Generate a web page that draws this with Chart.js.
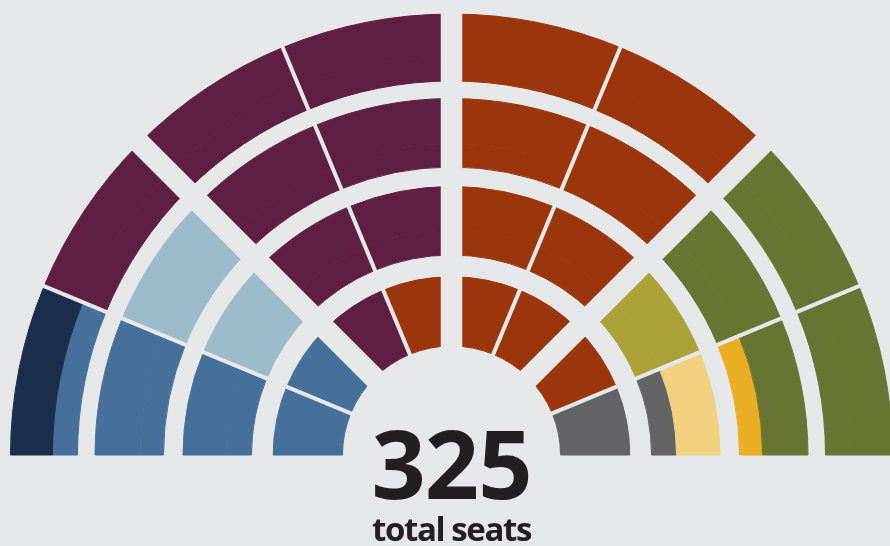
<!DOCTYPE html>
<html>
<head>
<meta charset="utf-8">
<script src="https://cdn.jsdelivr.net/npm/chart.js@4.4.1/dist/chart.umd.min.js"></script>
<style>
  html, body { margin: 0; padding: 0; background: #e6e7e9; }
  #wrap { position: relative; width: 890px; height: 546px; overflow: hidden; }
  .total { position: absolute; left: 0; width: 903px; text-align: center;
           font-family: 'Open Sans', sans-serif; font-weight: 700; color: #231f20; line-height: 1; }
  #num { top: 415px; font-size: 95px; letter-spacing: -1px; }
  #lbl { top: 512px; font-size: 33px; letter-spacing: -1.4px; }
</style>
</head>
<body>
<div id="wrap">
  <canvas id="chart" width="890" height="546"></canvas>
  <div class="total" id="num">325</div>
  <div class="total" id="lbl">total seats</div>
</div>
<script>
// 8 equal blocks per ring, left to right
const blocks = ['B1', 'B2', 'B3', 'B4', 'B5', 'B6', 'B7', 'B8'];
const blockSeats = [1, 1, 1, 1, 1, 1, 1, 1];
const totalSeats = 325;

// party of each block, outer ring first (outer/inner band where a block is shared)
const ring1Outer = ['navy', 'purple', 'purple', 'purple', 'orange', 'orange', 'green', 'green'];
const ring1Inner = ['blue', 'purple', 'purple', 'purple', 'orange', 'orange', 'green', 'green'];
const ring2Outer = ['blue', 'lightBlue', 'purple', 'purple', 'orange', 'orange', 'green', 'green'];
const ring2Inner = ['blue', 'lightBlue', 'purple', 'purple', 'orange', 'orange', 'green', 'yellow'];
const ring3Outer = ['blue', 'lightBlue', 'purple', 'purple', 'orange', 'orange', 'olive', 'paleYellow'];
const ring3Inner = ['blue', 'lightBlue', 'purple', 'purple', 'orange', 'orange', 'olive', 'grey'];
const ring4 = ['blue', 'blue', 'purple', 'orange', 'orange', 'orange', 'orange', 'grey'];

const colors = {
  navy: '#1b2f4c', blue: '#46709a', lightBlue: '#9dbacb', purple: '#5f1f42',
  orange: '#9b350b', olive: '#aca137', green: '#687532', yellow: '#eaae25',
  paleYellow: '#f1d17f', grey: '#636365'
};
const bg = '#e6e7e9';

function band(parties, weight) {
  const c = parties.map(p => colors[p]);
  return { data: blockSeats, backgroundColor: c, borderColor: c, borderWidth: 1, weight: weight };
}
function spacer(weight) {
  return { data: [1], backgroundColor: 'transparent', borderWidth: 0, weight: weight };
}

// straight gaps between blocks: wide between pairs, thin inside a pair
const gapLines = {
  id: 'gapLines',
  afterDatasetsDraw(chart) {
    const ctx = chart.ctx;
    const arcs = chart.getDatasetMeta(0).data;
    const last = chart.getDatasetMeta(chart.data.datasets.length - 1).data[0];
    const r0 = last.innerRadius - 2, r1 = arcs[0].outerRadius + 2;
    ctx.save();
    ctx.strokeStyle = bg;
    ctx.lineCap = 'butt';
    arcs.forEach((arc, i) => {
      if (i === 0) return;
      const a = arc.startAngle;
      ctx.lineWidth = i % 2 === 0 ? 21.5 : 4;
      ctx.beginPath();
      ctx.moveTo(arc.x + Math.cos(a) * r0, arc.y + Math.sin(a) * r0);
      ctx.lineTo(arc.x + Math.cos(a) * r1, arc.y + Math.sin(a) * r1);
      ctx.stroke();
    });
    ctx.restore();
  }
};

new Chart(document.getElementById('chart'), {
  type: 'doughnut',
  data: {
    labels: blocks,
    datasets: [
      band(ring1Outer, 42), band(ring1Inner, 25), spacer(17.5),
      band(ring2Outer, 45.5), band(ring2Inner, 23), spacer(19.5),
      band(ring3Outer, 43.5), band(ring3Inner, 25), spacer(21.7),
      band(ring4, 69.3)
    ]
  },
  options: {
    responsive: false,
    animation: false,
    rotation: -90,
    circumference: 180,
    radius: 441,
    cutout: '24.72%',
    clip: false,
    layout: { padding: { left: 13, right: 0, top: 0, bottom: 77 } },
    plugins: { legend: { display: false }, tooltip: { enabled: false } }
  },
  plugins: [gapLines]
});
</script>
</body>
</html>
